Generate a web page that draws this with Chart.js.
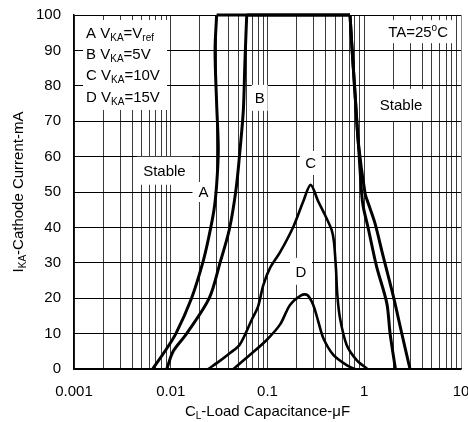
<!DOCTYPE html>
<html>
<head>
<meta charset="utf-8">
<script src="https://cdn.jsdelivr.net/npm/chart.js@4.4.1/dist/chart.umd.min.js"></script>
<style>
  html, body { margin: 0; padding: 0; background: #fff; }
  canvas { display: block; }
</style>
</head>
<body>
<canvas id="stability" width="468" height="422"></canvas>
<script>
const xTickLabels = [0.001, 0.01, 0.1, 1, 10];
const yTickLabels = [0, 10, 20, 30, 40, 50, 60, 70, 80, 90, 100];

// A: VKA = Vref
const capA = [0.0065, 0.0087, 0.0113, 0.0164, 0.0214, 0.0244, 0.028, 0.0298, 0.031, 0.0298, 0.0287, 0.0298, 0.713, 0.742, 0.802, 0.868, 1.02, 1.10, 1.29, 1.57, 2.0, 2.44, 2.97];
const curA = [0, 5, 10, 20, 30, 36.5, 45, 52, 62, 75, 90, 100, 100, 92, 78, 64, 49.6, 46.8, 41.2, 31.8, 20.5, 10.1, 0];
// B: VKA = 5V
const capB = [0.0091, 0.0106, 0.0146, 0.025, 0.0323, 0.0403, 0.0472, 0.052, 0.0563, 0.0585, 0.061, 0.713, 0.742, 0.802, 0.868, 0.94, 0.977, 1.10, 1.34, 1.71, 1.85, 2.1];
const curB = [0, 5, 10, 20, 30, 39.4, 50.6, 61.9, 73.2, 87.3, 100, 100, 92, 78, 64, 49.6, 45.8, 39.7, 29, 18.6, 10, 0];
// C: VKA = 10V
const capC = [0.0244, 0.033, 0.041, 0.052, 0.0687, 0.08, 0.0905, 0.106, 0.135, 0.185, 0.234, 0.279, 0.335, 0.393, 0.46, 0.486, 0.51, 0.527, 0.562, 0.658, 0.835, 1.076];
const curC = [0, 2.5, 4.5, 7, 13.9, 17.7, 23.7, 28.5, 33, 40.2, 47.3, 52, 47.3, 43.5, 39.3, 36, 28.4, 20.9, 14.3, 6.8, 2.5, 0];
// D: VKA = 15V
const capD = [0.0445, 0.066, 0.098, 0.135, 0.171, 0.225, 0.258, 0.297, 0.335, 0.378, 0.479, 0.658, 0.80];
const curD = [0, 4, 8.2, 12.6, 18.1, 20.9, 20.9, 18.1, 13.4, 8.7, 4, 1.1, 0];

const FONT = '"Liberation Sans", Arial, sans-serif';

// log grid: 1..9 in every decade
const xGrid = [];
xTickLabels.slice(0, -1).forEach(d => {
  for (let m = 1; m < 10; m++) xGrid.push(+(d * m).toPrecision(3));
});
xGrid.push(xTickLabels[xTickLabels.length - 1]);

// split a curve where it runs along the 100 mA limit so the corners stay sharp
function pieces(caps, curs) {
  const pts = caps.map((x, i) => ({ x, y: curs[i] }));
  const first = pts.findIndex(p => p.y === 100);
  if (first < 0) return [pts];
  let last = first;
  while (last + 1 < pts.length && pts[last + 1].y === 100) last++;
  return [pts.slice(0, first + 1), pts.slice(first, last + 1), pts.slice(last)];
}

const datasets = [];
[[capA, curA, 3], [capB, curB, 3], [capC, curC, 2.6], [capD, curD, 2.6]].forEach(([caps, curs, w]) => {
  pieces(caps, curs).forEach(data => {
    const flat = data.every(p => p.y === 100);
    datasets.push({
      data,
      showLine: true,
      borderColor: '#000',
      borderWidth: w,
      pointRadius: 0,
      tension: flat ? 0 : 0.3,
      clip: 4,
    });
  });
});

function richText(ctx, parts, x, y, align) {
  const size = { '': 15, sub: 10, sup: 10 };
  const shift = { '': 0, sub: 3, sup: -6 };
  let total = 0;
  const widths = parts.map(([t, k]) => {
    ctx.font = size[k || ''] + 'px ' + FONT;
    const w = ctx.measureText(t).width;
    total += w;
    return w;
  });
  let cx = align === 'center' ? x - total / 2 : x;
  ctx.textAlign = 'left';
  ctx.textBaseline = 'alphabetic';
  ctx.fillStyle = '#000';
  parts.forEach(([t, k], i) => {
    ctx.font = size[k || ''] + 'px ' + FONT;
    ctx.fillText(t, cx, y + shift[k || '']);
    cx += widths[i];
  });
}

const notes = [
  { x: 0.0218, y: 50, w: 22, h: 20, parts: [['A']] },
  { x: 0.083, y: 76.6, w: 16, h: 26, parts: [['B']] },
  { x: 0.28, y: 58.2, w: 22, h: 24, parts: [['C']] },
  { x: 0.222, y: 27.6, w: 22, h: 27, parts: [['D']] },
  { x: 0.0086, y: 56, w: 55, h: 28, parts: [['Stable']] },
  { x: 2.4, y: 74.6, w: 52, h: 32, parts: [['Stable']] },
  { x: 3.6, y: 95.3, w: 74, h: 23, parts: [['TA=25'], ['o', 'sup'], ['C']] },
];

const legendLines = [
  [['A V'], ['KA', 'sub'], ['=V'], ['ref', 'sub']],
  [['B V'], ['KA', 'sub'], ['=5V']],
  [['C V'], ['KA', 'sub'], ['=10V']],
  [['D V'], ['KA', 'sub'], ['=15V']],
];

const labelsPlugin = {
  id: 'labels',
  beforeDatasetsDraw(chart) {
    const { ctx, scales: { x, y } } = chart;
    ctx.save();
    // legend block, top-left corner
    const lx = x.getPixelForValue(0.00124);
    const ly = y.getPixelForValue(98.6);
    ctx.fillStyle = '#fff';
    ctx.fillRect(lx, ly, 84, 90);
    legendLines.forEach((parts, i) => richText(ctx, parts, lx + 3, ly + 18 + i * 21.2, 'left'));

    notes.forEach(n => {
      const px = x.getPixelForValue(n.x);
      const py = y.getPixelForValue(n.y);
      ctx.fillStyle = '#fff';
      ctx.fillRect(px - n.w / 2, py - n.h / 2, n.w, n.h);
      richText(ctx, n.parts, px, py + 5.3, 'center');
    });
    ctx.restore();
  },
  afterDraw(chart) {
    const { ctx, chartArea } = chart;
    ctx.save();
    richText(ctx, [['C'], ['L', 'sub'], ['-Load Capacitance-\u03bcF']], (chartArea.left + chartArea.right) / 2, 416, 'center');
    ctx.translate(23, (chartArea.top + chartArea.bottom) / 2);
    ctx.rotate(-Math.PI / 2);
    richText(ctx, [['I'], ['KA', 'sub'], ['-Cathode Current-mA']], 0, 0, 'center');
    ctx.restore();
  },
};

new Chart(document.getElementById('stability'), {
  type: 'scatter',
  data: { datasets },
  plugins: [labelsPlugin],
  options: {
    responsive: false,
    animation: false,
    devicePixelRatio: 1,
    layout: { padding: { top: 15, right: 7, left: 0, bottom: 0 } },
    plugins: { legend: { display: false }, tooltip: { enabled: false } },
    scales: {
      x: {
        type: 'logarithmic',
        min: xTickLabels[0],
        max: xTickLabels[xTickLabels.length - 1],
        afterBuildTicks: s => { s.ticks = xGrid.map(value => ({ value })); },
        afterFit: s => {
          s.height = 53;
          s.paddingLeft = 0;
          s.paddingRight = 0;
        },
        ticks: {
          autoSkip: false,
          maxRotation: 0,
          padding: 14,
          color: '#000',
          font: { family: FONT, size: 15 },
          callback: v => (xTickLabels.includes(v) ? String(v) : ''),
        },
        grid: {
          drawTicks: false,
          color: c => (c.tick && c.tick.value === 10 ? '#888' : '#3a3a3a'),
        },
        border: { color: '#000', width: 1.5 },
      },
      y: {
        min: yTickLabels[0],
        max: yTickLabels[yTickLabels.length - 1],
        afterFit: s => {
          s.width = 74;
          s.paddingTop = 0;
          s.paddingBottom = 0;
        },
        ticks: {
          stepSize: 10,
          padding: 13,
          color: '#000',
          font: { family: FONT, size: 15 },
        },
        grid: { drawTicks: false, color: '#000' },
        border: { color: '#000', width: 1.5 },
      },
    },
  },
});
</script>
</body>
</html>
